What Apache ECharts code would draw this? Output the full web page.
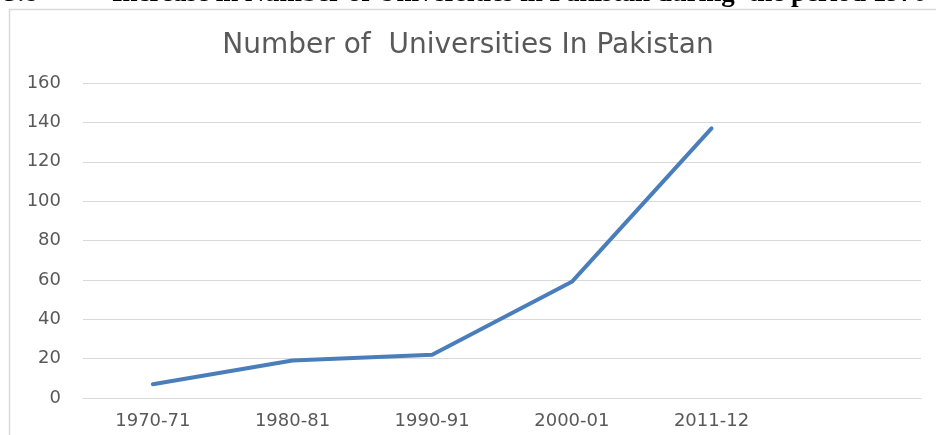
<!DOCTYPE html>
<html>
<head>
<meta charset="utf-8">
<script src="https://cdn.jsdelivr.net/npm/echarts@6/dist/echarts.min.js"></script>
<style>
  html, body { margin: 0; padding: 0; background: #fff; }
  #main { width: 936px; height: 435px; }
</style>
</head>
<body>
<div id="main"></div>
<script>
/* 数据 */
var years = ['1970-71', '1980-81', '1990-91', '2000-01', '2011-12', ''];
var universities = [7, 19, 22, 59, 137];
var yTicks = { min: 0, max: 160, interval: 20 };

var chart = echarts.init(document.getElementById('main'));

var option = {
    backgroundColor: '#fff',
    animation: false,
    title: {
        text: 'Number of  Universities In Pakistan',
        left: 'center',
        top: 27,
        textStyle: {
            fontFamily: 'DejaVu Sans',
            fontSize: 28,
            fontWeight: 'normal',
            color: '#595959'
        }
    },
    graphic: [
        { // 外框
            type: 'rect',
            shape: { x: 9.5, y: 9.5, width: 960, height: 460 },
            style: { fill: 'none', stroke: '#d9d9d9', lineWidth: 1.5 },
            silent: true
        },
        { // 页面上被裁掉的标题
            type: 'text',
            left: 4,
            top: -19,
            style: {
                text: '3.8',
                font: 'bold 27px "Liberation Serif"',
                fill: '#000'
            }
        },
        {
            type: 'text',
            left: 112,
            top: -19,
            style: {
                text: 'Increase in Number of Universities in Pakistan during  the period 1970-2012',
                font: 'bold 27px "Liberation Serif"',
                fill: '#000'
            }
        }
    ],
    grid: {
        left: 83,
        right: 15,
        top: 83,
        bottom: 37,
        containLabel: false
    },
    xAxis: {
        type: 'category',
        data: years,
        boundaryGap: true,
        axisLine: { lineStyle: { color: '#d9d9d9', width: 1 } },
        axisTick: { show: false },
        axisLabel: {
            margin: 14,
            fontFamily: 'DejaVu Sans',
            fontSize: 18,
            color: '#595959'
        }
    },
    yAxis: {
        type: 'value',
        min: yTicks.min,
        max: yTicks.max,
        interval: yTicks.interval,
        axisLine: { show: false },
        axisTick: { show: false },
        axisLabel: {
            margin: 22,
            fontFamily: 'DejaVu Sans',
            fontSize: 18,
            color: '#595959'
        },
        splitLine: { lineStyle: { color: '#d9d9d9', width: 1 } }
    },
    series: [{
        name: 'Universities',
        type: 'line',
        data: universities,
        symbol: 'none',
        lineStyle: { color: '#4a7ebb', width: 4, cap: 'round', join: 'round' },
        itemStyle: { color: '#4a7ebb' }
    }]
};

chart.setOption(option);
</script>
</body>
</html>
